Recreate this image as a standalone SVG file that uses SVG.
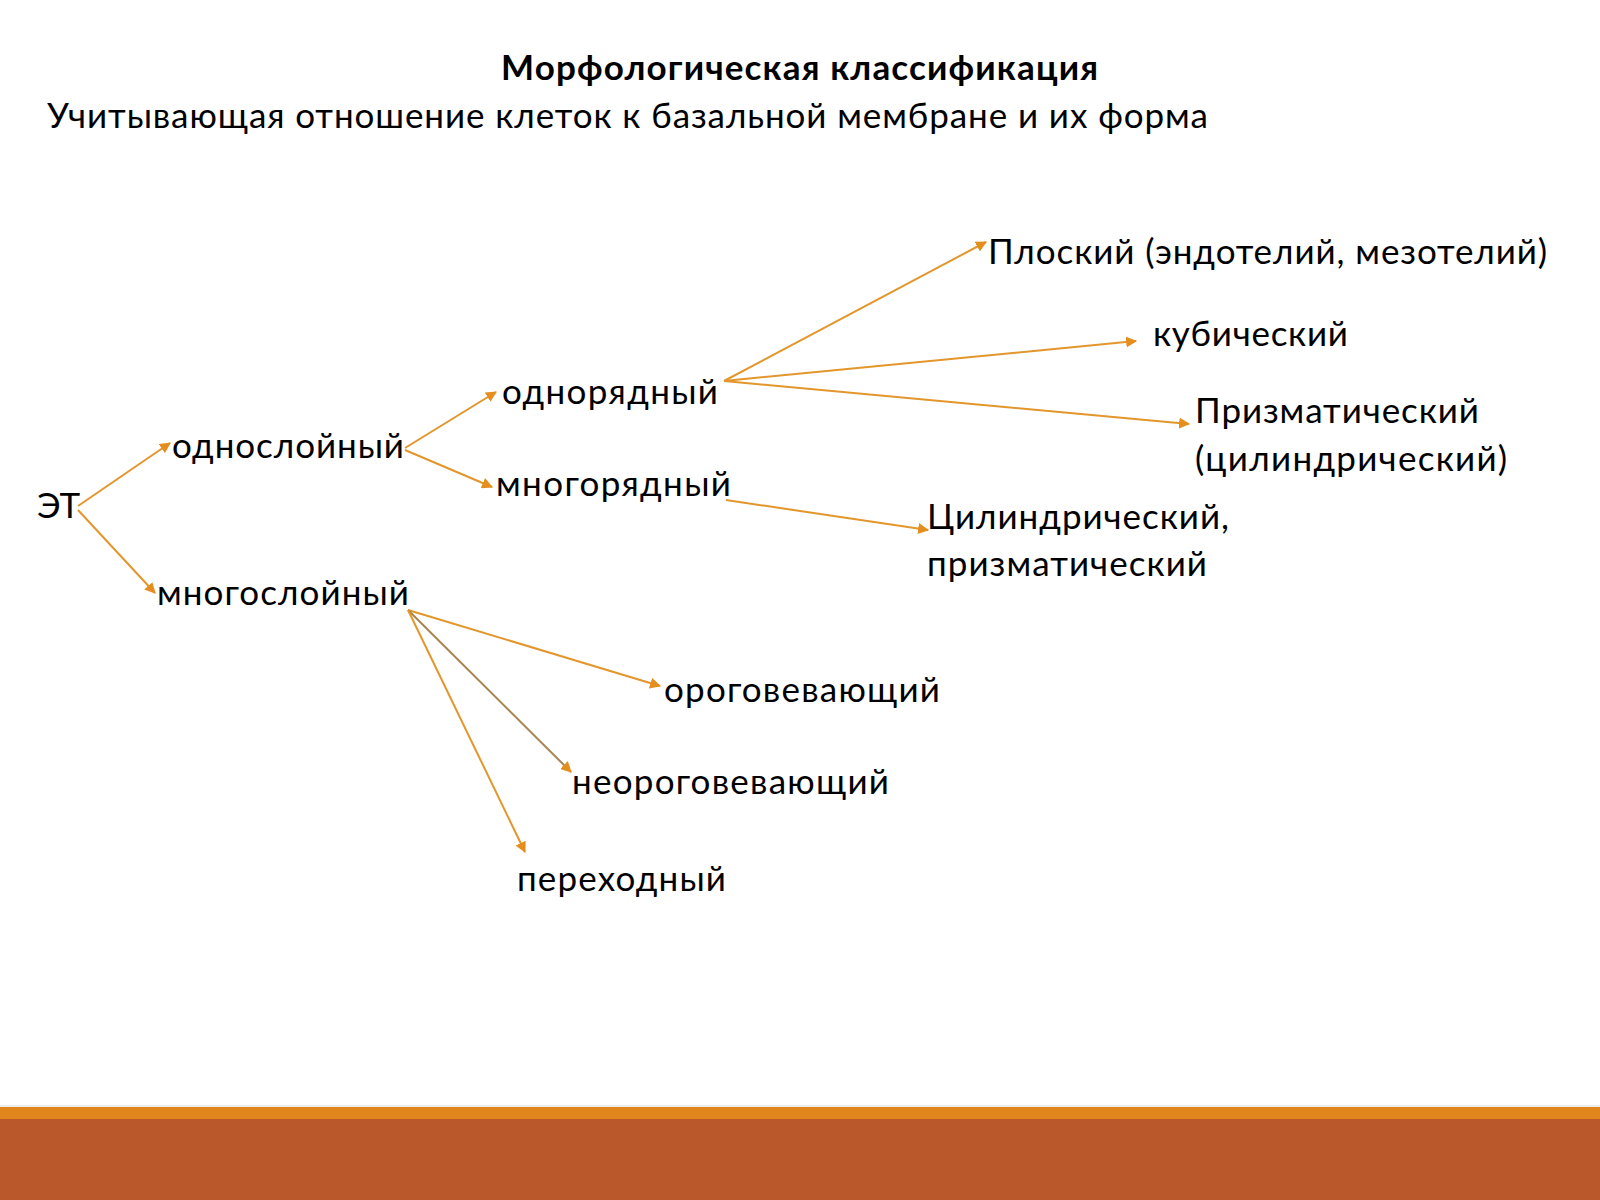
<svg xmlns="http://www.w3.org/2000/svg" width="1600" height="1200" viewBox="0 0 1600 1200">
<style>
text { font-family: Lato, "Open Sans", "DejaVu Sans", sans-serif; font-size: 35px; fill: #000; }
.title { font-weight: bold; }
.conn { stroke: #E3962B; stroke-width: 2; fill: none; marker-end: url(#ah); }
.conn2 { stroke: #A8844F; stroke-width: 2; fill: none; marker-end: url(#ah); }
</style>
<defs>
<marker id="ah" viewBox="0 0 10 10" refX="9" refY="5" markerWidth="5.5" markerHeight="5.5" orient="auto" markerUnits="strokeWidth">
<path d="M0,0 L10,5 L0,10 Z" fill="#E58E1E"/>
</marker>
</defs>
<rect x="0" y="0" width="1600" height="1200" fill="#fff"/>

<g id="header">
<text class="title" x="501" y="80" textLength="597">Морфологическая классификация</text>
<text x="47" y="128" textLength="1161">Учитывающая отношение клеток к базальной мембране и их форма</text>
</g>

<g id="connectors">
<line class="conn" x1="78" y1="506" x2="170" y2="443"/>
<line class="conn" x1="78" y1="510" x2="155" y2="593"/>
<line class="conn" x1="405" y1="448" x2="496" y2="392"/>
<line class="conn" x1="405" y1="450" x2="492" y2="487"/>
<line class="conn" x1="724" y1="381" x2="986" y2="242"/>
<line class="conn" x1="724" y1="381" x2="1136" y2="341"/>
<line class="conn" x1="724" y1="381" x2="1189" y2="424"/>
<line class="conn" x1="726" y1="500" x2="928" y2="530"/>
<line class="conn" x1="408" y1="610" x2="660" y2="686"/>
<line class="conn2" x1="408" y1="610" x2="571" y2="772"/>
<line class="conn" x1="408" y1="610" x2="525" y2="852"/>
</g>

<g id="node-et"><text x="37" y="518">ЭТ</text></g>
<g id="node-odnosloiny"><text x="172" y="458" textLength="232">однослойный</text></g>
<g id="node-mnogosloiny"><text x="157" y="605" textLength="252">многослойный</text></g>
<g id="node-odnoryadny"><text x="502" y="404" textLength="216">однорядный</text></g>
<g id="node-mnogoryadny"><text x="496" y="496" textLength="235">многорядный</text></g>
<g id="node-ploskiy"><text x="988" y="264" textLength="559">Плоский (эндотелий, мезотелий)</text></g>
<g id="node-kubicheskiy"><text x="1153" y="346" textLength="195">кубический</text></g>
<g id="node-prizmaticheskiy">
<text x="1195" y="423" textLength="284">Призматический</text>
<text x="1195" y="471" textLength="312">(цилиндрический)</text>
</g>
<g id="node-cilindricheskiy">
<text x="927" y="529" textLength="302">Цилиндрический,</text>
<text x="927" y="576" textLength="280">призматический</text>
</g>
<g id="node-orogovevayushchiy"><text x="664" y="702" textLength="276">ороговевающий</text></g>
<g id="node-neorogovevayushchiy"><text x="572" y="794" textLength="317">неороговевающий</text></g>
<g id="node-perekhodny"><text x="517" y="891" textLength="209">переходный</text></g>

<g id="footer">
<rect x="0" y="1105" width="1600" height="2" fill="#EDEDED"/>
<rect x="0" y="1107" width="1600" height="12" fill="#E0861C"/>
<rect x="0" y="1119" width="1600" height="81" fill="#BA572B"/>
</g>
</svg>
